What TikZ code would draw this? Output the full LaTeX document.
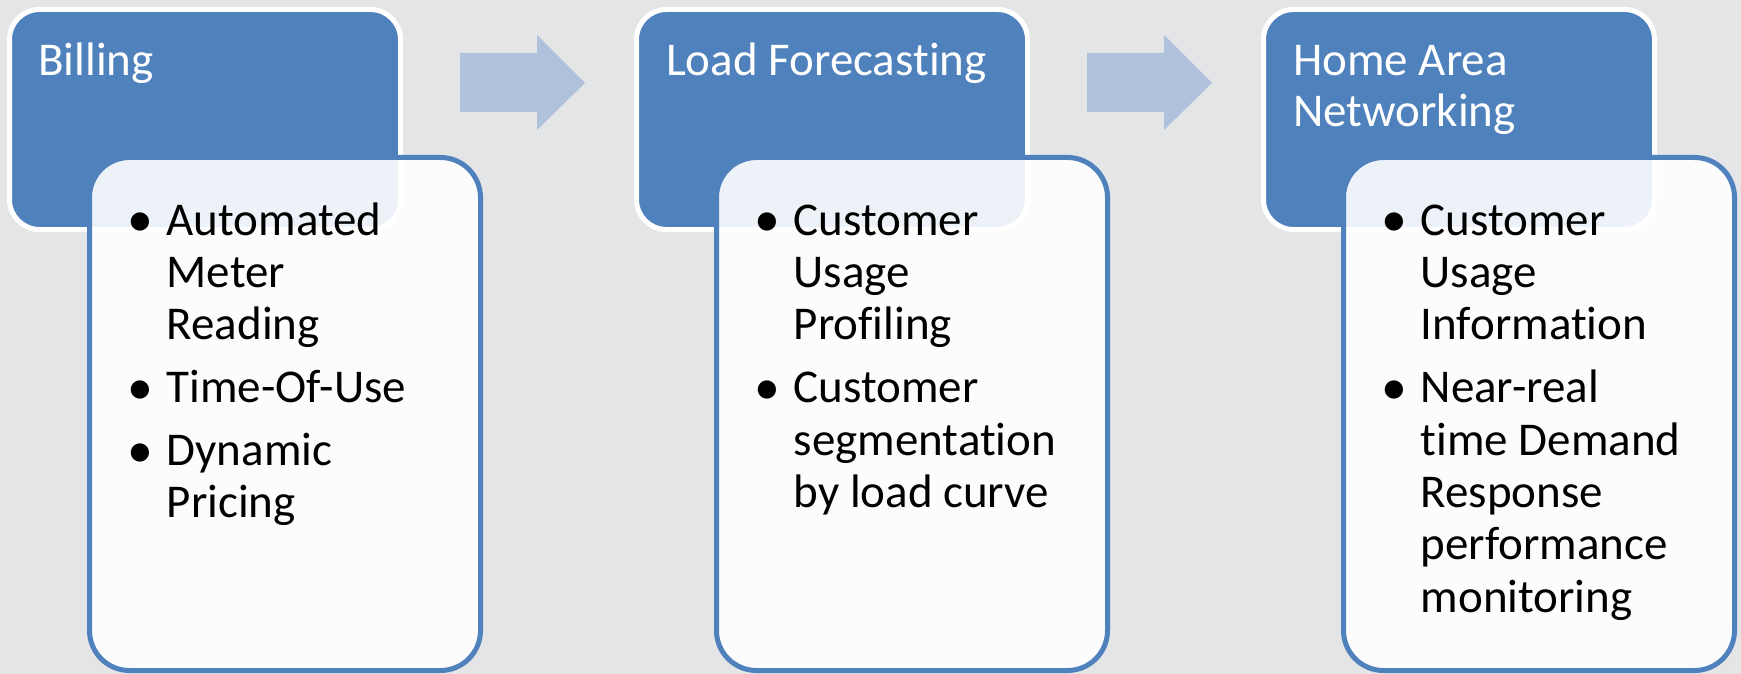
\documentclass[tikz,border=0pt]{standalone}
\usepackage{fontspec}
\setmainfont{Carlito}[Ligatures=NoCommon]
\definecolor{bg}{HTML}{E4E5E7}
\definecolor{accblue}{HTML}{4F81BD}
\definecolor{arrowblue}{HTML}{B0C1DC}
\newcommand\bitem[1]{\noindent\hangindent=34pt\hangafter=1\makebox[34pt][l]{\makebox[16pt][c]{\raisebox{-1.5pt}{\scalebox{1.1}{\textbullet}}}}#1\par}
\newcommand\itemgap{\vspace{10.5pt}}
\tikzset{
  bluebox/.style={draw=white, line width=5pt, fill=accblue, rounded corners=30pt,
    minimum width=391pt, minimum height=220pt, anchor=north west, outer sep=0pt, inner sep=0pt},
  whitebox/.style={draw=accblue, line width=5pt, fill=white, fill opacity=0.9, draw opacity=1,
    rounded corners=40pt, minimum width=391pt, minimum height=513pt, anchor=north west, outer sep=0pt, inner sep=0pt},
  titletext/.style={anchor=base west, inner sep=0pt, text=white,
    font=\fontsize{47}{51}\selectfont},
  bodytext/.style={anchor=base west, inner sep=0pt, text=black,
    font=\fontsize{47}{52.4}\selectfont},
  flowarrow/.style={fill=arrowblue, draw=none}
}
\begin{document}
\begin{tikzpicture}[x=1pt, y=-1pt]
\fill[bg] (0,0) rectangle (1741,674);
\useasboundingbox (0,0) rectangle (1741,674);

% Column 1
\node[bluebox] (b1) at (9.5,9.5) {};
\node[titletext] (t1) at (38,76) {\parbox[t]{360pt}{\raggedright Billing}};
\node[whitebox] (w1) at (89.5,157.5) {};
\node[bodytext] (l1) at (132.5,235) {\parbox[t]{360pt}{%
\bitem{Automated\\Meter\\Reading}\itemgap
\bitem{Time-Of-Use}\itemgap
\bitem{Dynamic\\Pricing}}};

% Arrow 1
\fill[flowarrow] (460,53) -- (537,53) -- (537,35) -- (585,83) -- (537,130) -- (537,112) -- (460,112) -- cycle;

% Column 2
\node[bluebox] (b2) at (636.5,9.5) {};
\node[titletext] (t2) at (666,76) {\parbox[t]{360pt}{\raggedright Load Forecasting}};
\node[whitebox] (w2) at (716.5,157.5) {};
\node[bodytext] (l2) at (759.5,235) {\parbox[t]{360pt}{%
\bitem{Customer\\Usage\\Profiling}\itemgap
\bitem{Customer\\segmentation\\by load curve}}};

% Arrow 2
\fill[flowarrow] (1087,53) -- (1164,53) -- (1164,35) -- (1212,83) -- (1164,130) -- (1164,112) -- (1087,112) -- cycle;

% Column 3
\node[bluebox] (b3) at (1263.5,9.5) {};
\node[titletext] (t3) at (1293,76) {\parbox[t]{360pt}{\raggedright Home Area\\Networking}};
\node[whitebox] (w3) at (1343.5,157.5) {};
\node[bodytext] (l3) at (1386.5,235) {\parbox[t]{360pt}{%
\bitem{Customer\\Usage\\Information}\itemgap
\bitem{Near-real\\time Demand\\Response\\performance\\monitoring}}};
\end{tikzpicture}
\end{document}
